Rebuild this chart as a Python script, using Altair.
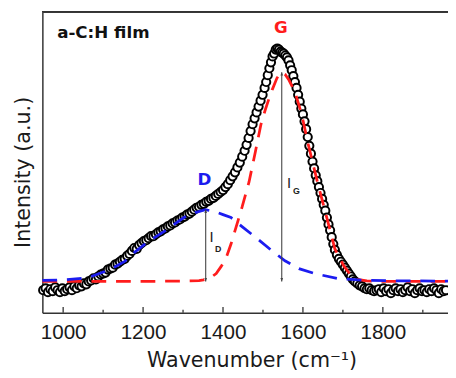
import altair as alt
import pandas as pd

# ---- measured data (circles) ----
data_wn = [950, 956, 962, 968, 974, 980, 986, 992, 998, 1004, 1010, 1016, 1022, 1028, 1034, 1040,
           1046, 1052, 1058, 1064, 1070, 1076, 1082, 1088, 1094, 1100, 1106, 1112, 1118, 1124, 1130,
           1136, 1142, 1148, 1154, 1160, 1166, 1172, 1178, 1184, 1190, 1196, 1202, 1208, 1214, 1220,
           1226, 1232, 1238, 1244, 1250, 1256, 1262, 1268, 1274, 1280, 1286, 1292, 1298, 1304, 1310,
           1316, 1322, 1328, 1334, 1340, 1346, 1352, 1358, 1364, 1370, 1376, 1382, 1388, 1394, 1400,
           1406, 1412, 1418, 1424, 1430, 1436, 1442, 1448, 1454, 1459, 1464, 1469, 1474, 1479, 1484,
           1489, 1494, 1499, 1504, 1508, 1512, 1516, 1520, 1524, 1528, 1532, 1536, 1540, 1544, 1548,
           1552, 1556, 1560, 1564, 1568, 1572, 1576, 1580, 1584, 1588, 1592, 1596, 1600, 1604, 1608,
           1612, 1616, 1620, 1624, 1628, 1632, 1636, 1640, 1644, 1648, 1652, 1656, 1660, 1664, 1668,
           1672, 1676, 1680, 1685, 1690, 1695, 1700, 1705, 1710, 1715, 1720, 1725, 1730, 1736, 1742,
           1748, 1754, 1760, 1766, 1772, 1778, 1784, 1790, 1796, 1802, 1808, 1814, 1820, 1826, 1832,
           1838, 1844, 1850, 1856, 1862, 1868, 1874, 1880, 1886, 1892, 1898, 1904, 1910, 1916, 1922,
           1928, 1934, 1940, 1946, 1952, 1958]
data_int = [-9, -7, -11, -8, -10, -6, -9, -11, -7, -10, -8, -6, -9, -5, -7, -4,
            -5, -2, -3, 0, 1, 3, 2, 5, 7, 8, 9, 12, 13, 14, 17,
            18, 20, 22, 23, 26, 28, 31, 34, 33, 37, 39, 41, 42, 44, 46,
            46, 48, 50, 51, 53, 54, 56, 57, 59, 60, 62, 63, 65, 66, 68,
            69, 71, 73, 75, 76, 78, 79, 81, 82, 84, 85, 87, 89, 91, 93,
            96, 99, 103, 107, 111, 116, 121, 127, 133, 139, 146, 153, 160, 166, 172,
            178, 184, 190, 197, 203, 210, 217, 223, 229, 232, 236, 237, 236, 234, 233,
            232, 230, 228, 225, 220, 215, 209, 203, 197, 190, 183, 176, 170, 163, 155,
            147, 138, 130, 122, 115, 108, 102, 96, 90, 84, 78, 72, 65, 58, 52,
            45, 38, 32, 27, 23, 20, 17, 14, 11, 8, 5, 2, 0, -2, -4,
            -5, -7, -8, -7, -9, -10, -9, -8, -11, -7, -10, -8, -12, -9, -7,
            -10, -8, -11, -9, -6, -10, -8, -12, -9, -7, -10, -9, -11, -8, -10,
            -7, -9, -12, -8, -10, -9]

# ---- G band fit (red dashed) ----
red_wn = [948, 1000, 1100, 1200, 1300, 1340, 1351, 1370, 1383, 1395, 1407, 1420, 1431, 1448,
          1465, 1481, 1495, 1506, 1515, 1523, 1535, 1545, 1555, 1565, 1580, 1597, 1613, 1637,
          1659, 1680, 1702, 1720, 1735, 1760, 1800, 1900, 1963]
red_int = [0, 0, 0, 0, 0.3, 0.8, 1.5, 4, 8, 15, 23, 38, 53, 76,
           101, 132, 160, 175, 186, 195, 207, 213, 211, 205, 193, 170, 140, 100,
           66, 33, 16, 6, 2, 0.5, 0, 0, 0]

# ---- D band fit (blue dashed) ----
blue_wn = [948, 1000, 1046, 1070, 1104, 1130, 1153, 1180, 1211, 1253, 1302, 1330, 1356, 1380,
           1400, 1420, 1450, 1481, 1520, 1555, 1590, 1629, 1686, 1720, 1760, 1850, 1963]
blue_int = [1, 1.5, 3, 5, 10, 15, 20, 30, 40, 51, 65, 70, 73, 71,
            68, 65, 55, 45, 32, 21, 13, 8, 3, 2, 1, 0.5, 0.3]

# ---- intensity arrows ----
arrow_wn = [1356.7, 1547]
arrow_top = [73, 213]
arrow_bottom = [0, 0]

# ---- axis ticks ----
major_ticks = [1000, 1200, 1400, 1600, 1800]
minor_ticks = [1100, 1300, 1500, 1700, 1900]

# ---- annotations ----
ann_text = ["a-C:H film", "G", "D"]
ann_wn = [985, 1545, 1353.5]
ann_int = [248, 253, 98]
ann_color = ["#111111", "#ff1c1c", "#1c1cee"]
ann_align = ["left", "center", "center"]

lab_wn = [1366, 1560]
lab_int = [40, 95]
sub_text = ["D", "G"]
sub_wn = [1380, 1575]
sub_int = [30, 89]

W, H = 413, 306
XDOM = [948, 1963]
YDOM = [-32, 274]
AXC = "#333333"

xs = alt.Scale(domain=XDOM, nice=False, zero=False)
ys = alt.Scale(domain=YDOM, nice=False, zero=False)

df_data = pd.DataFrame({"wn": data_wn, "I": data_int})
df_red = pd.DataFrame({"wn": red_wn, "I": red_int})
df_blue = pd.DataFrame({"wn": blue_wn, "I": blue_int})
df_arr = pd.DataFrame({"wn": arrow_wn, "top": arrow_top, "bot": arrow_bottom})
df_major = pd.DataFrame({"wn": major_ticks})
df_minor = pd.DataFrame({"wn": minor_ticks})

x_axis = alt.Axis(values=major_ticks, format="d", labelFont="Liberation Sans", labelFontSize=21,
                  labelColor="#1a1a1a", labelPadding=9, ticks=False, tickSize=0, grid=False,
                  domainColor=AXC, domainWidth=1.5,
                  title="Wavenumber (cm\u207b\u00b9)", titleFont="DejaVu Sans", titleFontSize=21,
                  titleFontWeight="normal", titleColor="#1a1a1a", titlePadding=8, titleX=213)
y_axis = alt.Axis(labels=False, ticks=False, tickSize=0, grid=False, domainColor=AXC, domainWidth=1.5,
                  minExtent=0, title="Intensity (a.u.)", titleFont="DejaVu Sans", titleFontSize=21,
                  titleFontWeight="normal", titleColor="#1a1a1a", titlePadding=9, titleY=162.5)

circles = alt.Chart(df_data).mark_circle(size=70, fill="white", stroke="black", strokeWidth=2.0,
                                         opacity=1, fillOpacity=1).encode(
    x=alt.X("wn:Q", scale=xs, axis=x_axis),
    y=alt.Y("I:Q", scale=ys, axis=y_axis),
)

red = alt.Chart(df_red).mark_line(color="#ff1c1c", strokeWidth=2.8, strokeDash=[15, 10]).encode(
    x=alt.X("wn:Q", scale=xs), y=alt.Y("I:Q", scale=ys))
blue = alt.Chart(df_blue).mark_line(color="#1c1cf0", strokeWidth=2.8, strokeDash=[15, 10]).encode(
    x=alt.X("wn:Q", scale=xs), y=alt.Y("I:Q", scale=ys))

arrows = alt.Chart(df_arr).mark_rule(color="#444444", strokeWidth=1.1).encode(
    x=alt.X("wn:Q", scale=xs), y=alt.Y("top:Q", scale=ys), y2="bot:Q")
head_down = alt.Chart(df_arr).mark_point(shape="M -0.4 -1 L 0.4 -1 L 0 0 Z", filled=True,
                                         color="#444444", size=45, opacity=1).encode(
    x=alt.X("wn:Q", scale=xs), y=alt.Y("bot:Q", scale=ys))
head_up = alt.Chart(df_arr).mark_point(shape="M -0.4 1 L 0.4 1 L 0 0 Z", filled=True,
                                       color="#444444", size=45, opacity=1).encode(
    x=alt.X("wn:Q", scale=xs), y=alt.Y("top:Q", scale=ys))

ann_layers = []
for t, w, i, c, a in zip(ann_text, ann_wn, ann_int, ann_color, ann_align):
    d = pd.DataFrame({"wn": [w], "I": [i], "t": [t]})
    ann_layers.append(alt.Chart(d).mark_text(font="DejaVu Sans", fontSize=17, fontWeight="bold",
                                             color=c, align=a, baseline="alphabetic").encode(
        x=alt.X("wn:Q", scale=xs), y=alt.Y("I:Q", scale=ys), text="t:N"))

df_lab = pd.DataFrame({"wn": lab_wn, "I": lab_int, "t": ["I", "I"]})
labs = alt.Chart(df_lab).mark_text(font="Liberation Sans", fontSize=15, color="#222222",
                                   align="left", baseline="alphabetic").encode(
    x=alt.X("wn:Q", scale=xs), y=alt.Y("I:Q", scale=ys), text="t:N")
df_sub = pd.DataFrame({"wn": sub_wn, "I": sub_int, "t": sub_text})
subs = alt.Chart(df_sub).mark_text(font="Liberation Sans", fontSize=9, fontWeight="bold",
                                   color="#222222", align="left", baseline="alphabetic").encode(
    x=alt.X("wn:Q", scale=xs), y=alt.Y("I:Q", scale=ys), text="t:N")

maj = alt.Chart(df_major).mark_rule(color=AXC, strokeWidth=1.3).encode(
    x=alt.X("wn:Q", scale=xs), y=alt.value(H), y2=alt.value(H - 6))
mnr = alt.Chart(df_minor).mark_rule(color=AXC, strokeWidth=1.3).encode(
    x=alt.X("wn:Q", scale=xs), y=alt.value(H), y2=alt.value(H - 3))
top = alt.Chart(df_major).mark_rule(color=AXC, strokeWidth=1.5).encode(
    x=alt.value(0), x2=alt.value(W), y=alt.value(-0.5))

chart = alt.layer(circles, red, blue, arrows, head_down, head_up, *ann_layers, labs, subs,
                  maj, mnr, top).properties(
    width=W, height=H,
    autosize=alt.AutoSizeParams(type="none"),
    padding={"left": 35, "top": 1, "right": 0, "bottom": 62},
).configure_view(stroke="transparent")

chart.save("out.html", embed_options={"renderer": "svg", "actions": False})
